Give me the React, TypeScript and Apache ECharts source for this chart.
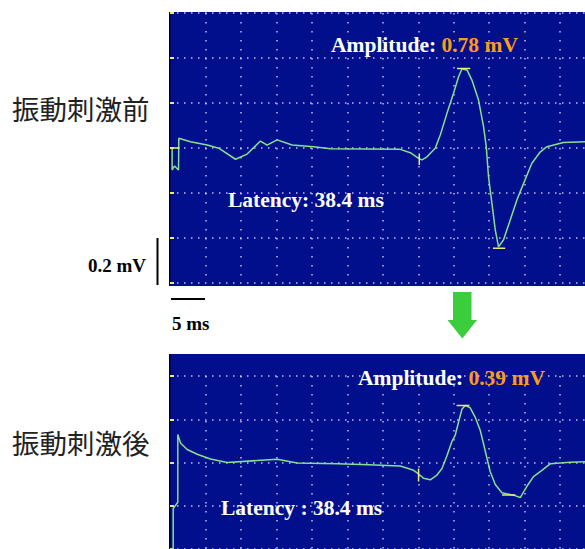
import React, { useEffect, useRef } from "react";
import * as echarts from "echarts";

// ---- Data (time in ms, voltage in mV) ----
const topTimeMs = [0.3, 0.3, 0.45, 0.65, 0.92, 1.2, 1.24, 2.89, 5.24, 6.87, 9.23, 10.87, 12.75, 13.69, 15.1, 17.21, 20.25, 22.6, 27.5, 32.46, 33.87, 35.04, 35.52, 36.23, 37.39, 38.1, 39.04, 39.97, 40.68, 41.15, 41.86, 42.56, 43.49, 44.2, 44.58, 44.9, 45.38, 45.85, 46.31, 47.01, 47.96, 48.9, 49.37, 51.01, 52.18, 53.13, 55.46, 58.52];
const topVoltageMv = [0, -0.098, -0.089, -0.08, -0.089, -0.098, 0.043, 0.028, 0.013, -0.001, -0.05, -0.027, 0.031, 0.013, 0.036, 0.013, 0.006, -0.003, -0.004, -0.006, -0.021, -0.046, -0.053, -0.039, -0.001, 0.058, 0.154, 0.243, 0.317, 0.351, 0.347, 0.302, 0.213, 0.095, 0.006, -0.128, -0.246, -0.364, -0.439, -0.409, -0.32, -0.231, -0.194, -0.068, -0.018, 0.006, 0.024, 0.028];

const bottomTimeMs = [0.45, 0.45, 1.1, 1.1, 1.48, 2.42, 3.83, 5.7, 8.06, 12.28, 15.1, 17.92, 23.55, 28.0, 32.46, 34.34, 35.04, 35.75, 36.69, 37.63, 38.34, 39.04, 39.75, 40.21, 40.68, 41.15, 41.62, 42.32, 43.03, 43.73, 44.44, 45.14, 45.85, 46.79, 48.42, 49.37, 50.31, 51.24, 52.42, 53.59, 56.41, 58.52];
const bottomVoltageMv = [-0.4, -0.213, -0.184, 0.13, 0.09, 0.06, 0.038, 0.016, 0.0, 0.009, 0.015, -0.002, -0.006, -0.01, -0.016, -0.036, -0.053, -0.073, -0.08, -0.058, -0.028, 0.031, 0.098, 0.127, 0.187, 0.246, 0.264, 0.253, 0.209, 0.149, 0.053, -0.043, -0.102, -0.14, -0.151, -0.162, -0.11, -0.065, -0.036, -0.006, 0.001, 0.004];

// Cursor markers [t1, v1, t2, v2]
const topMarkers = [
  [0.07, 0, 1.34, 0],
  [35.14, -0.024, 35.14, -0.076],
  [40.45, 0.353, 42.32, 0.353],
  [45.52, -0.446, 47.25, -0.446],
];
const bottomMarkers = [
  [35.04, -0.028, 35.04, -0.088],
  [40.4, 0.264, 42.2, 0.264],
  [46.8, -0.15, 48.7, -0.15],
];

const topAmplitude = "0.78 mV";
const bottomAmplitude = "0.39 mV";
const topLatency = "Latency: 38.4 ms";
const bottomLatency = "Latency : 38.4 ms";
const topLabel = "振動刺激前";
const bottomLabel = "振動刺激後";
const voltScale = "0.2 mV";
const timeScale = "5 ms";

const BLUE = "#020f8c";
const TRACE = "#86e08e";
const CURSOR = "#eaea78";
const SERIF = "'Liberation Serif', 'Times New Roman', serif";

function zip(t: number[], v: number[]) {
  return t.map((x, i) => [x, v[i]]);
}

export default function App() {
  const ref = useRef<HTMLDivElement>(null);
  useEffect(() => {
    if (!ref.current) return;
    const chart = echarts.init(ref.current, null, { renderer: "svg" });
    const xSplit = {
      show: true,
      showMinLine: false,
      showMaxLine: false,
      lineStyle: { color: "rgba(235,235,255,0.8)", type: [1.5, 7.5], width: 1.5 },
    };
    const ySplit = {
      show: true,
      showMinLine: true,
      showMaxLine: true,
      lineStyle: { color: "rgba(235,235,255,0.8)", type: [1.5, 5.5], width: 1.5 },
    };
    const xAxisBase = {
      type: "value",
      min: 0,
      max: 58.5,
      interval: 5,
      axisLine: { show: false },
      axisTick: { show: false },
      axisLabel: { show: false },
      splitLine: xSplit,
    };
    const yAxisBase = {
      type: "value",
      interval: 0.2,
      axisLine: { show: false },
      axisLabel: { show: false },
      axisTick: { show: true, inside: true, length: 4, lineStyle: { color: CURSOR, width: 2 } },
      splitLine: ySplit,
    };
    const markerSeries = (m: number[][], gi: number) =>
      m.map((r) => ({
        type: "line",
        xAxisIndex: gi,
        yAxisIndex: gi,
        data: [
          [r[0], r[1]],
          [r[2], r[3]],
        ],
        showSymbol: false,
        lineStyle: { color: CURSOR, width: 1.5 },
        z: 4,
        silent: true,
      }));
    const txt = (x: number, y: number, text: string, size: number, extra: any = {}) => ({
      type: "text",
      x,
      y,
      z: 100,
      style: {
        text,
        fontFamily: SERIF,
        fontWeight: "bold",
        fontSize: size,
        fill: "#ffffff",
        verticalAlign: "middle",
        ...extra,
      },
    });
    const rich = {
      w: { fontFamily: SERIF, fontWeight: "bold", fontSize: 21.5, fill: "#ffffff" },
      o: { fontFamily: SERIF, fontWeight: "bold", fontSize: 21.5, fill: "#ff9a1a" },
    };
    chart.setOption({
      animation: false,
      grid: [
        { left: 170, top: 13, width: 415, height: 270, show: false },
        { left: 170, top: 376, width: 415, height: 179, show: false },
      ],
      xAxis: [
        { ...xAxisBase, gridIndex: 0 },
        { ...xAxisBase, gridIndex: 1 },
      ],
      yAxis: [
        { ...yAxisBase, gridIndex: 0, min: -0.6, max: 0.6 },
        { ...yAxisBase, gridIndex: 1, min: -0.4, max: 0.4 },
      ],
      series: [
        {
          type: "line",
          xAxisIndex: 0,
          yAxisIndex: 0,
          data: zip(topTimeMs, topVoltageMv),
          showSymbol: false,
          lineStyle: { color: TRACE, width: 1.5 },
          z: 3,
        },
        {
          type: "line",
          xAxisIndex: 1,
          yAxisIndex: 1,
          data: zip(bottomTimeMs, bottomVoltageMv),
          showSymbol: false,
          lineStyle: { color: TRACE, width: 1.5 },
          z: 3,
        },
        ...markerSeries(topMarkers, 0),
        ...markerSeries(bottomMarkers, 1),
      ],
      graphic: [
        { type: "rect", z: -10, shape: { x: 170, y: 12, width: 415, height: 274 }, style: { fill: BLUE } },
        { type: "rect", z: -10, shape: { x: 170, y: 354, width: 415, height: 195 }, style: { fill: BLUE } },
        { type: "rect", z: -9, shape: { x: 169, y: 12, width: 1.5, height: 274 }, style: { fill: "#000020" } },
        { type: "rect", z: -9, shape: { x: 169, y: 354, width: 1.5, height: 195 }, style: { fill: "#000020" } },
        {
          type: "text",
          x: 331,
          y: 45,
          z: 100,
          style: { text: "{w|Amplitude: }{o|" + topAmplitude + "}", verticalAlign: "middle", rich },
        },
        {
          type: "text",
          x: 358,
          y: 378,
          z: 100,
          style: { text: "{w|Amplitude: }{o|" + bottomAmplitude + "}", verticalAlign: "middle", rich },
        },
        txt(228, 200, topLatency, 21.5),
        txt(221, 508, bottomLatency, 21.5),
        txt(88, 265, voltScale, 19, { fill: "#000000" }),
        txt(172, 323, timeScale, 19, { fill: "#000000" }),
        {
          type: "text",
          x: 12,
          y: 108,
          z: 100,
          style: { text: topLabel, fontFamily: "'Noto Sans CJK JP', sans-serif", fontSize: 27.5, fill: "#222222", verticalAlign: "middle" },
        },
        {
          type: "text",
          x: 12,
          y: 442,
          z: 100,
          style: { text: bottomLabel, fontFamily: "'Noto Sans CJK JP', sans-serif", fontSize: 27.5, fill: "#222222", verticalAlign: "middle" },
        },
        { type: "line", z: 100, shape: { x1: 157.5, y1: 238, x2: 157.5, y2: 285 }, style: { stroke: "#000", lineWidth: 2 } },
        { type: "line", z: 100, shape: { x1: 171, y1: 299, x2: 205, y2: 299 }, style: { stroke: "#000", lineWidth: 2 } },
        {
          type: "polygon",
          z: 100,
          shape: {
            points: [
              [453, 292],
              [471.5, 292],
              [471.5, 320],
              [477, 320],
              [462.3, 338.5],
              [447.5, 320],
              [453, 320],
            ],
          },
          style: { fill: "#3ccd3c" },
        },
      ],
    });
    return () => chart.dispose();
  }, []);
  return <div ref={ref} style={{ position: "absolute", left: 0, top: 0, width: 585, height: 549 }} />;
}
